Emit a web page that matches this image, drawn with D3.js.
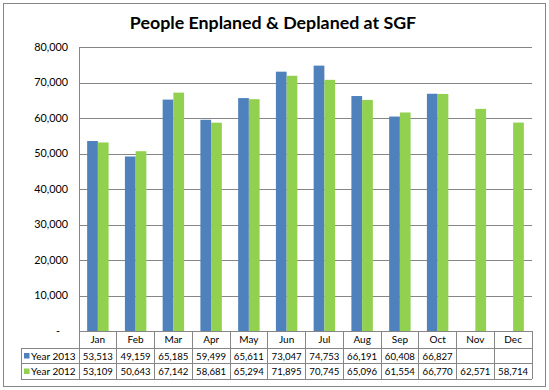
<!DOCTYPE html>
<html>
<head>
<meta charset="utf-8">
<script src="https://cdn.jsdelivr.net/npm/d3@7"></script>
<style>
    body { margin: 0; background: #fff; }
    svg { display: block; font-family: Lato, "Open Sans", sans-serif; }
</style>
</head>
<body>
<div id="chart"></div>
<script>
const months = ["Jan", "Feb", "Mar", "Apr", "May", "Jun", "Jul", "Aug", "Sep", "Oct", "Nov", "Dec"];
const seriesNames = ["Year 2013", "Year 2012"];
const year2013 = [53513, 49159, 65185, 59499, 65611, 73047, 74753, 66191, 60408, 66827, null, null];
const year2012 = [53109, 50643, 67142, 58681, 65294, 71895, 70745, 65096, 61554, 66770, 62571, 58714];
const yTicks = [0, 10000, 20000, 30000, 40000, 50000, 60000, 70000, 80000];
const colors = ["#4f81bd", "#92d050"];

const width = 549, height = 390;
const plot = {left: 79, right: 532, top: 47, bottom: 331};
const rowH = [17, 15.5, 15.5]; // category row, then one row per series
const tableLeft = 21;
const lineColor = "#868686";

const svg = d3.select("#chart")
    .append("svg")
    .attr("width", width)
    .attr("height", height)
    .attr("viewBox", [0, 0, width, height]);

svg.append("rect")
    .attr("x", 3.5).attr("y", 3.5)
    .attr("width", 542).attr("height", 383)
    .attr("fill", "#fff")
    .attr("stroke", lineColor);

svg.append("text")
    .attr("x", 273)
    .attr("y", 28.5)
    .attr("text-anchor", "middle")
    .style("font-size", "17.8px")
    .style("font-weight", "bold")
    .attr("fill", "#000")
    .text("People Enplaned & Deplaned at SGF");

const x0 = d3.scaleBand()
    .domain(months)
    .range([plot.left, plot.right])
    .paddingInner(0)
    .paddingOuter(0);

const x1 = d3.scaleBand()
    .domain(seriesNames)
    .range([0, x0.bandwidth()])
    .paddingInner(0)
    .paddingOuter(0.76);

const y = d3.scaleLinear()
    .domain([0, 80000])
    .range([plot.bottom, plot.top]);

// gridlines + y axis
const yAxis = d3.axisLeft(y)
    .tickValues(yTicks)
    .tickSize(-(plot.right - plot.left))
    .tickPadding(11)
    .tickFormat(d => d === 0 ? "-" : d3.format(",")(d));

const gy = svg.append("g")
    .attr("transform", `translate(${plot.left},0)`)
    .call(yAxis);

gy.select(".domain").remove();
gy.selectAll(".tick line")
    .attr("stroke", lineColor)
    .attr("x1", 0)
    .attr("shape-rendering", "crispEdges");
gy.selectAll(".tick text")
    .style("font-size", "10.8px")
    .style("font-family", "Lato, sans-serif")
    .attr("fill", "#000")
    .attr("dx", d => d === 0 ? -8 : 0);

svg.append("line")
    .attr("x1", plot.left).attr("x2", plot.left)
    .attr("y1", plot.top).attr("y2", plot.bottom)
    .attr("stroke", lineColor)
    .attr("shape-rendering", "crispEdges");

// bars
const table = months.map((m, i) => ({month: m, values: [year2013[i], year2012[i]]}));

const groups = svg.append("g")
    .selectAll("g.month")
    .data(table)
    .join("g")
    .attr("class", "month")
    .attr("transform", d => `translate(${x0(d.month)},0)`);

groups.selectAll("rect")
    .data(d => d.values.map((v, k) => ({name: seriesNames[k], value: v, k: k})).filter(e => e.value != null))
    .join("rect")
    .attr("x", e => x1(e.name))
    .attr("width", x1.bandwidth())
    .attr("y", e => y(e.value))
    .attr("height", e => y(0) - y(e.value))
    .attr("fill", e => colors[e.k]);

// data table
const rowY = [plot.bottom];
rowH.forEach((h, i) => rowY.push(rowY[i] + h));

const tg = svg.append("g")
    .attr("shape-rendering", "crispEdges")
    .attr("stroke", lineColor);

// horizontal lines
tg.append("line")
    .attr("x1", plot.left).attr("x2", plot.right)
    .attr("y1", rowY[0]).attr("y2", rowY[0]);
rowY.slice(1).forEach(yy => {
    tg.append("line")
        .attr("x1", tableLeft).attr("x2", plot.right)
        .attr("y1", yy).attr("y2", yy);
});

// vertical lines
const bounds = months.map(m => x0(m)).concat([plot.right]);
bounds.forEach(xx => {
    tg.append("line")
        .attr("x1", xx).attr("x2", xx)
        .attr("y1", rowY[0]).attr("y2", rowY[3]);
});
tg.append("line")
    .attr("x1", tableLeft).attr("x2", tableLeft)
    .attr("y1", rowY[1]).attr("y2", rowY[3]);

// category labels
svg.append("g")
    .selectAll("text")
    .data(months)
    .join("text")
    .attr("x", m => x0(m) + x0.bandwidth() / 2)
    .attr("y", rowY[0] + 12)
    .attr("text-anchor", "middle")
    .style("font-size", "10px")
    .attr("fill", "#000")
    .text(m => m);

// series rows
const fmt = d3.format(",");
[year2013, year2012].forEach((vals, k) => {
    const ry = rowY[k + 1];
    svg.append("rect")
        .attr("x", 24).attr("y", ry + 5)
        .attr("width", 5.5).attr("height", 5.5)
        .attr("fill", colors[k]);
    svg.append("text")
        .attr("x", 31)
        .attr("y", ry + 11.5)
        .style("font-size", "10px")
        .attr("fill", "#000")
        .text(seriesNames[k]);
    svg.append("g")
        .selectAll("text")
        .data(vals.map((v, i) => ({v: v, m: months[i]})).filter(e => e.v != null))
        .join("text")
        .attr("x", e => x0(e.m) + x0.bandwidth() / 2)
        .attr("y", ry + 11.5)
        .attr("text-anchor", "middle")
        .style("font-size", "9.6px")
        .attr("fill", "#000")
        .text(e => fmt(e.v));
});
</script>
</body>
</html>
